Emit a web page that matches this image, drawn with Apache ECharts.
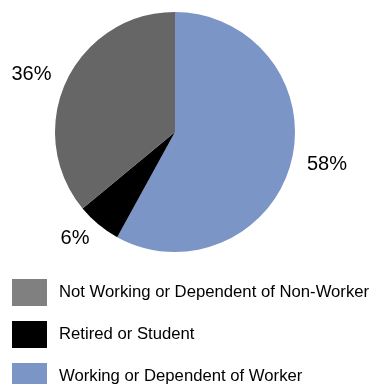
<!DOCTYPE html>
<html>
<head>
<meta charset="utf-8">
<script src="https://cdn.jsdelivr.net/npm/echarts@6/dist/echarts.min.js"></script>
<style>
  html, body { margin: 0; padding: 0; background: #fff; }
  #chart { width: 372px; height: 384px; }
</style>
</head>
<body>
<div id="chart"></div>
<script>
// Share of households by work status (clockwise from 12 o'clock)
const categories = ['Working or Dependent of Worker', 'Retired or Student', 'Not Working or Dependent of Non-Worker'];
const values = [58, 6, 36];
const sliceColors = ['#7b95c6', '#000000', '#666666'];
const legendOrder = ['Not Working or Dependent of Non-Worker', 'Retired or Student', 'Working or Dependent of Worker'];
const legendColors = ['#808080', '#000000', '#7b95c6'];

const chart = echarts.init(document.getElementById('chart'), null, { renderer: 'canvas' });

chart.setOption({
  animation: false,
  textStyle: { fontFamily: '"Liberation Sans", Arial, sans-serif' },
  legend: {
    orient: 'vertical',
    left: 12,
    top: 279,
    height: 200,
    padding: 0,
    icon: 'rect',
    itemWidth: 35,
    itemHeight: 27,
    itemGap: 15,
    selectedMode: false,
    textStyle: { fontSize: 16.7, color: '#000', padding: [0, 0, 0, 7] },
    data: legendOrder.map((name, i) => ({ name, itemStyle: { color: legendColors[i] } }))
  },
  series: [{
    type: 'pie',
    center: [175, 132],
    radius: [0, 120],
    startAngle: 90,
    clockwise: true,
    avoidLabelOverlap: false,
    itemStyle: { borderWidth: 0 },
    label: {
      show: true,
      position: 'outside',
      formatter: '{c}%',
      fontSize: 20,
      color: '#000'
    },
    labelLine: { show: false, length: 11, length2: 0 },
    // small nudges so the small-slice label sits clear of the pie edge
    labelLayout: function (params) {
      if (params.dataIndex === 1) return { dx: 3, dy: 6 };
      if (params.dataIndex === 2) return { dy: -2 };
      return {};
    },
    emphasis: { disabled: true },
    data: categories.map((name, i) => ({
      name,
      value: values[i],
      itemStyle: { color: sliceColors[i] }
    }))
  }]
});
</script>
</body>
</html>
